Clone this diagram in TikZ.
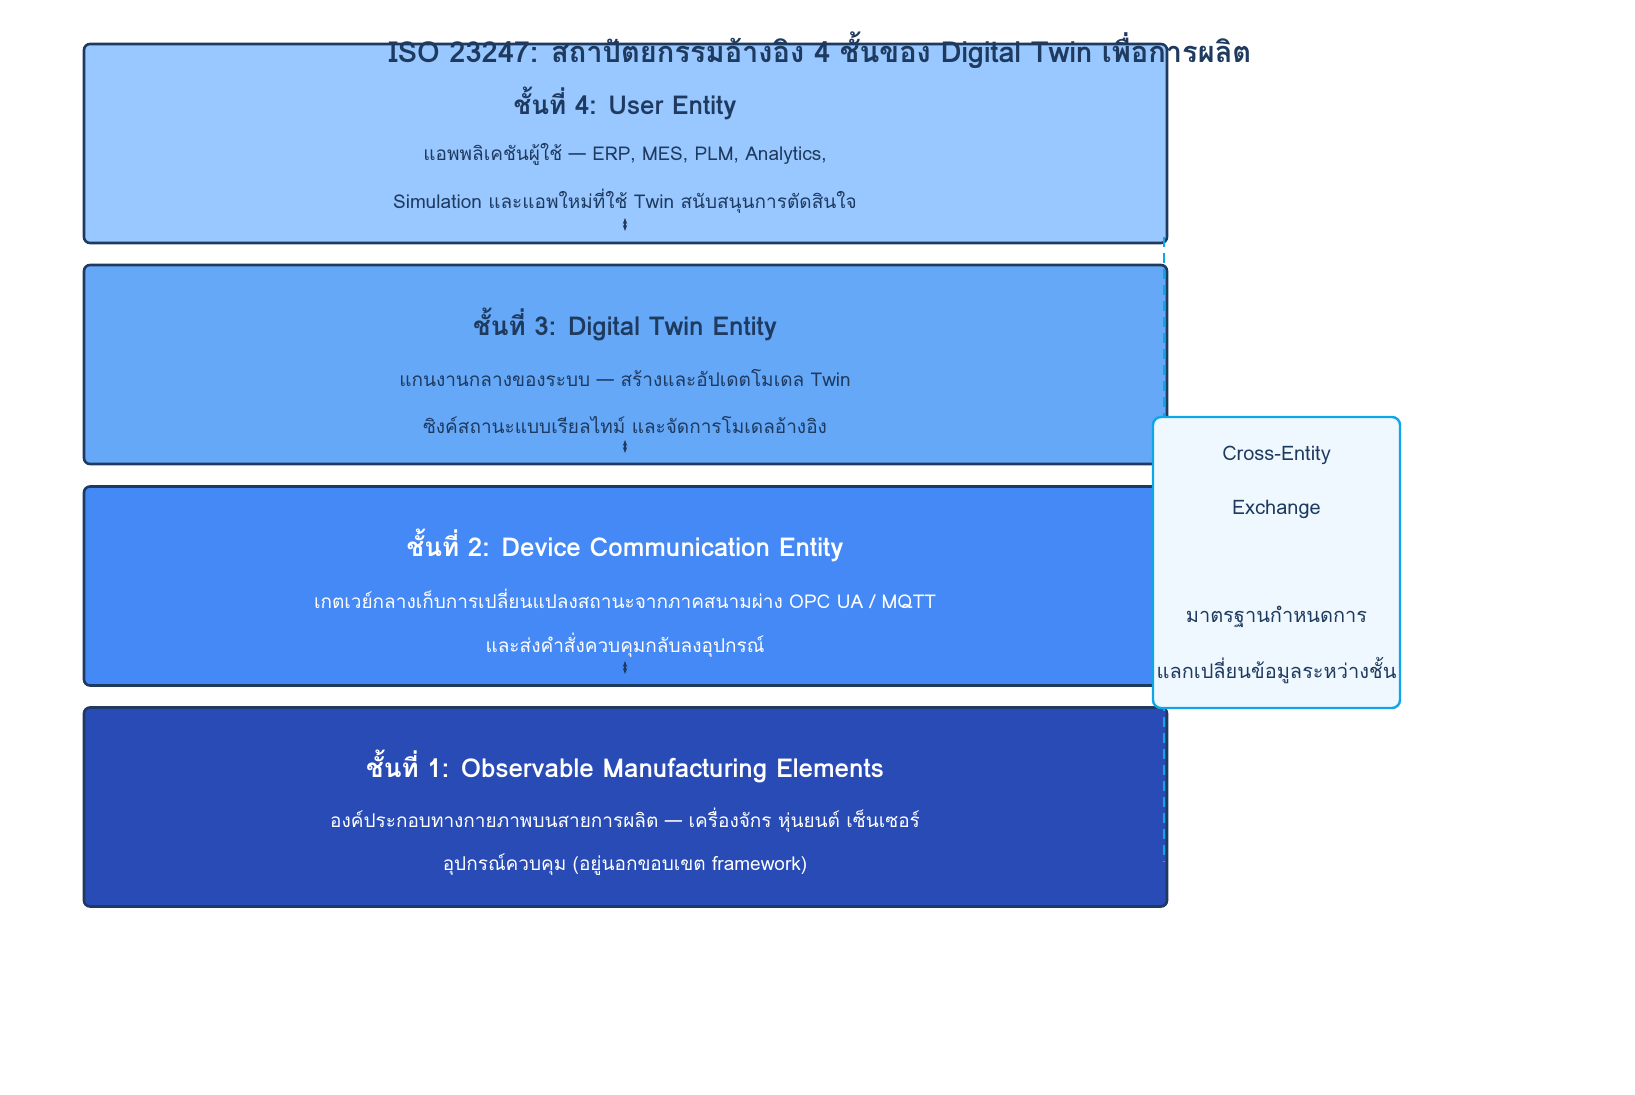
\documentclass[tikz,border=0pt]{standalone}
\usepackage{fontspec}
\setmainfont{Loma}[Script=Thai]
\usetikzlibrary{arrows.meta, positioning, calc}
\definecolor{ink}{HTML}{1E3A5F}
\definecolor{layerA}{HTML}{99C7FF}
\definecolor{layerB}{HTML}{66A8F8}
\definecolor{layerC}{HTML}{4589F6}
\definecolor{layerD}{HTML}{284BB5}
\definecolor{sky}{HTML}{0EA5E9}
\definecolor{skyfill}{HTML}{F0F8FF}

\begin{document}
\begin{tikzpicture}[
    x=0.5pt, y=-0.5pt,
    >=Stealth,
    layer/.style={draw=ink, line width=1.3pt, rounded corners=3pt, minimum width=541.5pt, minimum height=99.5pt, inner sep=0pt},
    heading/.style={font=\bfseries\fontsize{13}{15}\selectfont},
    body/.style={font=\fontsize{9.5}{11}\selectfont},
    link/.style={ink, line width=1.2pt, {Stealth[length=3pt]}-{Stealth[length=3pt]}},
    sidebox/.style={draw=sky, fill=skyfill, line width=1.2pt, rounded corners=4pt, minimum width=123.5pt, minimum height=145.5pt},
    sidetext/.style={font=\fontsize{10}{12}\selectfont, text=ink},
    ]
    \useasboundingbox (0,0) rectangle (1635,1095);

    % layers
    \node (L4) [layer, fill=layerA] at (625.5,143.5) {};
    \node (L3) [layer, fill=layerB] at (625.5,364.5) {};
    \node (L2) [layer, fill=layerC] at (625.5,586) {};
    \node (L1) [layer, fill=layerD] at (625.5,807) {};

    \node (T) [heading, text=ink, font=\bfseries\fontsize{14.5}{16}\selectfont] at (820,50) {ISO 23247: สถาปัตยกรรมอ้างอิง 4 ชั้นของ Digital Twin เพื่อการผลิต};

    \node (H4) [heading, text=ink] at (625,103) {ชั้นที่ 4: User Entity};
    \node (A4) [body, text=ink] at (625,154) {แอพพลิเคชันผู้ใช้ — ERP, MES, PLM, Analytics,};
    \node (B4) [body, text=ink] at (625,201) {Simulation และแอพใหม่ที่ใช้ Twin สนับสนุนการตัดสินใจ};

    \node (H3) [heading, text=ink] at (625,324) {ชั้นที่ 3: Digital Twin Entity};
    \node (A3) [body, text=ink] at (625,378) {แกนงานกลางของระบบ — สร้างและอัปเดตโมเดล Twin};
    \node (B3) [body, text=ink] at (625,425) {ซิงค์สถานะแบบเรียลไทม์ และจัดการโมเดลอ้างอิง};

    \node (H2) [heading, text=white] at (625,545) {ชั้นที่ 2: Device Communication Entity};
    \node (A2) [body, text=white] at (625,599) {เกตเวย์กลางเก็บการเปลี่ยนแปลงสถานะจากภาคสนามผ่าง OPC UA / MQTT};
    \node (B2) [body, text=white] at (625,645) {และส่งคำสั่งควบคุมกลับลงอุปกรณ์};

    \node (H1) [heading, text=white] at (625,766) {ชั้นที่ 1: Observable Manufacturing Elements};
    \node (A1) [body, text=white] at (625,820) {องค์ประกอบทางกายภาพบนสายการผลิต — เครื่องจักร หุ่นยนต์ เซ็นเซอร์};
    \node (B1) [body, text=white] at (625,865) {อุปกรณ์ควบคุม (อยู่นอกขอบเขต framework)};

    % small links between layers
    \coordinate (K4a) at (625,218);
    \coordinate (K4b) at (625,231);
    \coordinate (K3a) at (625,440);
    \coordinate (K3b) at (625,453);
    \coordinate (K2a) at (625,661);
    \coordinate (K2b) at (625,674);
    \draw[link] (K4a) -- (K4b);
    \draw[link] (K3a) -- (K3b);
    \draw[link] (K2a) -- (K2b);

    % cross-entity exchange
    \coordinate (D1) at (1164,237);
    \coordinate (D2) at (1164,862);
    \draw[sky, line width=1.3pt, dash pattern=on 5pt off 3pt] (D1) -- (D2);

    \node (X) [sidebox] at (1276.5,562.5) {};
    \node (X1) [sidetext] at (1276.5,455) {Cross-Entity};
    \node (X2) [sidetext] at (1276.5,509) {Exchange};
    \node (X3) [sidetext] at (1276.5,617) {มาตรฐานกำหนดการ};
    \node (X4) [sidetext] at (1276.5,671) {แลกเปลี่ยนข้อมูลระหว่างชั้น};
\end{tikzpicture}
\end{document}
